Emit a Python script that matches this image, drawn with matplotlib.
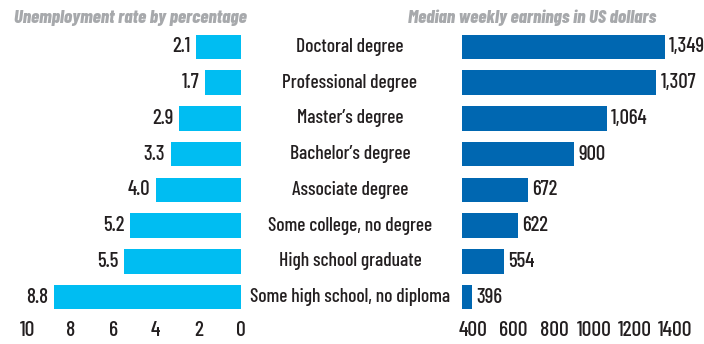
import matplotlib
matplotlib.use("Agg")
import matplotlib.pyplot as plt
from matplotlib.transforms import blended_transform_factory

degrees = ["Doctoral degree", "Professional degree", "Master\u2019s degree",
           "Bachelor\u2019s degree", "Associate degree", "Some college, no degree",
           "High school graduate", "Some high school, no diploma"]
unemployment = [2.1, 1.7, 2.9, 3.3, 4.0, 5.2, 5.5, 8.8]
earnings = [1349, 1307, 1064, 900, 672, 622, 554, 396]
left_ticks = [10, 8, 6, 4, 2, 0]
right_ticks = [400, 600, 800, 1000, 1200, 1400]

plt.rcParams["font.family"] = ["Barlow Condensed", "DejaVu Sans"]
plt.rcParams["font.weight"] = 500

ink = "#231f20"
grey = "#a7a9ac"
cyan = "#00bdf2"
blue = "#0067b1"

fig = plt.figure(figsize=(7.04, 3.44), dpi=100)
W, H = 704, 344

ax1 = fig.add_axes([28 / W, 29 / H, 213 / W, 286 / H])
ax2 = fig.add_axes([462 / W, 29 / H, 228 / W, 286 / H])

rows = list(range(len(degrees)))
ax1.barh(rows, unemployment, height=0.68, color=cyan)
ax1.set_xlim(10, 0)
ax1.set_ylim(len(degrees) - 0.5, -0.5)
for y, v in zip(rows, unemployment):
    ax1.text(v + 0.25, y, f"{v:.1f}", ha="right", va="center", fontsize=15, color=ink)

# earnings bars start a bit left of the 400 tick
base = 345
ax2.barh(rows, [e - base for e in earnings], left=base, height=0.68, color=blue)
ax2.set_xlim(base, 1474)
ax2.set_ylim(len(degrees) - 0.5, -0.5)
for y, v in zip(rows, earnings):
    ax2.text(v + 20, y, f"{v:,}", ha="left", va="center", fontsize=15, color=ink)

for ax, ticks in ((ax1, left_ticks), (ax2, right_ticks)):
    ax.set_xticks(ticks)
    ax.set_xticklabels([str(t) for t in ticks])
    ax.set_yticks([])
    ax.tick_params(axis="x", length=0, pad=4, labelsize=15.5, colors=ink)
    for s in ax.spines.values():
        s.set_visible(False)
    ax.patch.set_alpha(0)

tr = blended_transform_factory(fig.transFigure, ax1.transData)
for y, name in zip(rows, degrees):
    ax1.text(350 / W, y, name, transform=tr, ha="center", va="center",
             fontsize=14, color=ink, clip_on=False)

fig.text(14 / W, 1 - 18 / H, "Unemployment rate by percentage", ha="left", va="center",
         fontsize=13.5, fontweight="heavy", fontstyle="italic", color=grey)
fig.text(408 / W, 1 - 18 / H, "Median weekly earnings in US dollars", ha="left", va="center",
         fontsize=13.5, fontweight="heavy", fontstyle="italic", color=grey)

fig.savefig("out.png", dpi=100)
